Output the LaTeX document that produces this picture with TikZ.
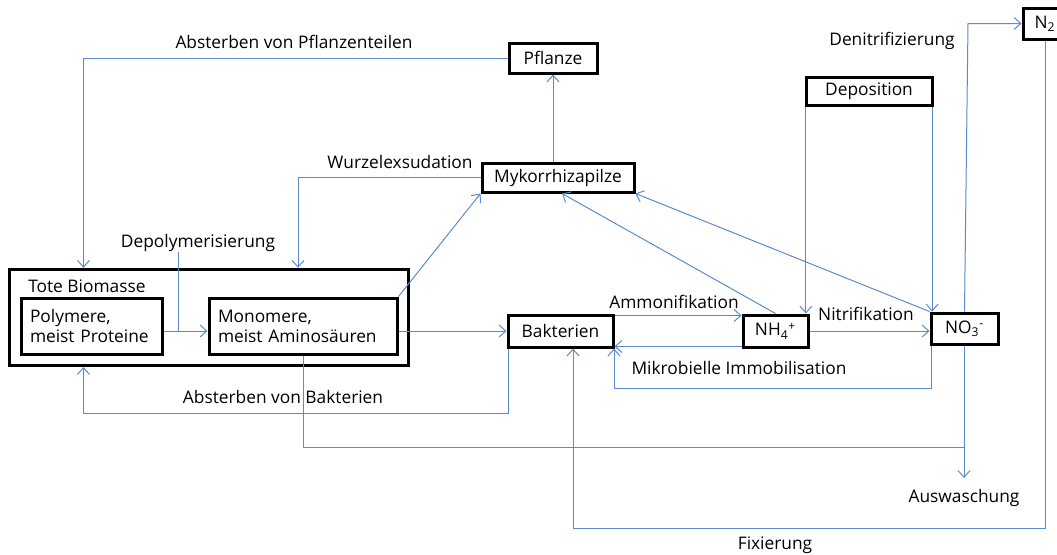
\documentclass[tikz,border=0pt]{standalone}
\usepackage{fontspec}
\setmainfont{Open Sans}
\usepackage{tikz}
\usetikzlibrary{arrows.meta}
\usetikzlibrary{fit, positioning}
\definecolor{flowblue}{RGB}{91,139,204}

\begin{document}
\begin{tikzpicture}[x=0.75pt,y=-0.75pt,>={Straight Barb[length=5pt,width=9pt]},
                    box node/.style={draw,line width=2.25pt,inner sep=0pt,font=\fontsize{13}{15}\selectfont},
                    text node/.style={inner sep=0pt,font=\fontsize{13}{15}\selectfont},
                    flow/.style={->,draw=flowblue,line width=0.75pt},
                    flow line/.style={draw=flowblue,line width=0.75pt}]

  \useasboundingbox (0,0) rectangle (1057,554);

  % pools
  \node[box node,minimum width=66pt,minimum height=22.5pt] (pfl) at (553,58) {Pflanze};
  \node[box node,minimum width=114pt,minimum height=21.75pt] (myk) at (558,177.5) {Mykorrhizapilze};
  \node[box node,minimum width=94.5pt,minimum height=21pt] (dep) at (869,91) {Deposition};
  \node[box node,minimum width=33pt,minimum height=23.25pt] (n2) at (1045,23.5) {N\textsubscript{2}};
  \node[box node,minimum height=42pt,align=left,inner xsep=6.75pt,text width=92.25pt] (poly) at (91.5,326) {Polymere,\\meist Proteine};
  \node[box node,minimum height=42pt,align=left,inner xsep=6.75pt,text width=127.5pt] (mono) at (303,326) {Monomere,\\meist Aminos\"auren};
  \node[text node,anchor=west] (tl) at (28,286) {Tote Biomasse};
  \node[draw,line width=2.25pt,inner sep=7.5pt,fit=(tl) (poly) (mono)] (tote) {};
  \node[box node,minimum width=78.75pt,minimum height=24pt] (bak) at (560.5,331) {Bakterien};
  \node[box node,minimum width=48.75pt,minimum height=24pt] (nh4) at (775.5,331) {NH\textsubscript{4}\textsuperscript{+}};
  \node[box node,minimum width=50.25pt,minimum height=23.25pt] (no3) at (964.5,328.5) {NO\textsubscript{3}\textsuperscript{-}};

  % process labels
  \node[text node] (lpfl) at (294,42) {Absterben von Pflanzenteilen};
  \node[text node] (lwur) at (400,162) {Wurzelexsudation};
  \node[text node] (depol) at (198,243) {Depolymerisierung};
  \node[text node] (lden) at (892,41) {Denitrifizierung};
  \node[text node] (lamm) at (674,302) {Ammonifikation};
  \node[text node] (lnit) at (866,314) {Nitrifikation};
  \node[text node] (limm) at (739,368) {Mikrobielle Immobilisation};
  \node[text node] (lbak) at (283,397) {Absterben von Bakterien};
  \node[text node] (laus) at (964,498) {Auswaschung};
  \node[text node] (lfix) at (775,545) {Fixierung};

  \coordinate (xa) at (83.5,0);
  \coordinate (xw) at (298,0);
  \coordinate (dp) at (178,331);
  \coordinate (ab) at (83.5,413);
  \coordinate (mi) at (614,388);
  \coordinate (lj) at (964,447);
  \coordinate (aus) at (964,478);
  \coordinate (dn) at (968,23.5);
  \coordinate (fx) at (573,528);
  \coordinate (d1) at ([xshift=1pt]dep.south west);
  \coordinate (d2) at ([xshift=-1pt]dep.south east);

  % flows
  \draw[flow] (pfl.west) -| (xa |- tote.north);
  \draw[flow] (pfl.south |- myk.north) -- (pfl.south);
  \draw[flow] (myk.west) -| (xw |- tote.north);
  \draw[flow line] (depol.south -| dp) -- (dp);
  \draw[flow] ([yshift=-3.75pt]poly.east) -- ([yshift=-3.75pt]mono.west);
  \draw[flow] (mono.north east) -- (myk.south west);
  \draw[flow] (mono.east |- bak.west) -- (bak.west);
  \draw[flow] ([xshift=1.5pt]bak.south west) |- (ab) -- (xa |- tote.south);
  \draw[flow line] (mono.south) |- (lj);
  \draw[flow] (no3.south -| lj) -- (aus);
  \draw[flow] ([yshift=-1.5pt]bak.north east) -- ([yshift=-1.5pt]nh4.north west);
  \draw[flow] ([yshift=1.5pt]nh4.south west) -- ([yshift=1.5pt]bak.south east);
  \draw[flow] ([xshift=1.5pt]no3.south west) |- (mi) -- (mi |- bak.south);
  \draw[flow] (nh4.east) -- (nh4.east -| no3.west);
  \draw[flow] (d1) -- (d1 |- nh4.north);
  \draw[flow] (d2) -- (d2 |- no3.north);
  \draw[flow] (nh4.north) -- ([xshift=3pt]myk.south);
  \draw[flow] (no3.north west) -- (myk.south east);
  \draw[flow] (no3.north) -- (dn) -- (n2.west);
  \draw[flow] (n2.south) |- (fx) -- (fx |- bak.south);
\end{tikzpicture}
\end{document}
